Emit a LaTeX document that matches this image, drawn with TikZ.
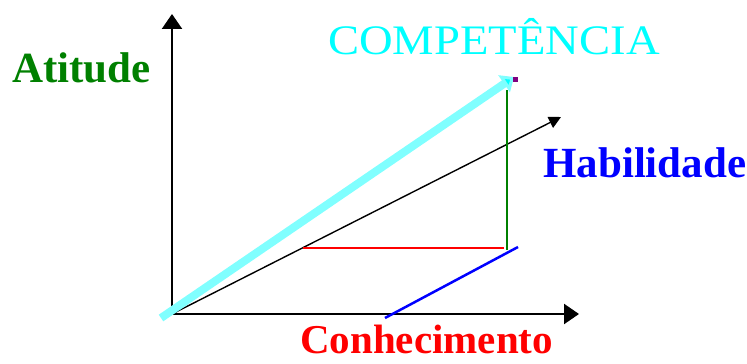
\documentclass[tikz,border=0pt]{standalone}
\usepackage{fontspec}
\setmainfont{Liberation Serif}
\usepackage{xcolor}
\usetikzlibrary{arrows.meta}

\definecolor{compcyan}{RGB}{0,255,255}
\definecolor{complight}{RGB}{128,255,255}
\definecolor{atgreen}{RGB}{0,128,0}
\definecolor{habblue}{RGB}{0,0,255}
\definecolor{conred}{RGB}{255,0,0}

\begin{document}
\begin{tikzpicture}[
  x=1pt, y=1pt,
  lbl/.style={inner sep=0pt, anchor=base west, font=\fontsize{43}{43}\selectfont\bfseries},
  axis/.style={line width=2.2pt, -{Triangle[length=15pt,width=20pt]}},
  proj/.style={line width=2.5pt},
  arr/.style={line width=1.4pt, -{Triangle[length=12pt,width=12pt]}}
]
\useasboundingbox (0,0) rectangle (747,364);

% ---- Axes ----
\coordinate (o)    at (172,50);
\coordinate (ytop) at (172,350);
\coordinate (xend) at (579,50);
\draw[axis] (o) -- (ytop);
\draw[axis] (o) -- (xend);

% ---- Habilidade axis (diagonal) ----
\coordinate (htip) at (561,247);
\draw[arr] (o) -- (htip);

% ---- Projections ----
\coordinate (p)    at (507,114);
\coordinate (pl)   at (303,116);
\coordinate (pr)   at (504,116);
\coordinate (pb)   at (385,46);
\coordinate (pe)   at (518,117);
\coordinate (ptop) at (507,274);
\draw[proj, conred]  (pl) -- (pr);
\draw[proj, habblue] (pb) -- (pe);
\draw[proj, atgreen] (p) -- (ptop);

% ---- Competencia vector ----
\coordinate (cstart) at (161,46);
\coordinate (ctip)   at (514,287);
\draw[line width=8pt, complight, -{Triangle[length=12pt,width=20pt,fill=compcyan]}]
  (cstart) -- (ctip);
\fill[violet] (513,282) rectangle (518,287);

% ---- Labels ----
\node[lbl, text=atgreen]   (atit) at (12,281)  {Atitude};
\node[lbl, text=habblue]   (habi) at (543,186) {Habilidade};
\node[lbl, text=conred, font=\fontsize{41}{41}\selectfont\bfseries]
  (conh) at (300,10) {Conhecimento};
\node[inner sep=0pt, anchor=base west, text=compcyan, xscale=1.11,
      font=\fontsize{42}{42}\selectfont] (comp) at (328,309) {COMPETÊNCIA};

\end{tikzpicture}
\end{document}
